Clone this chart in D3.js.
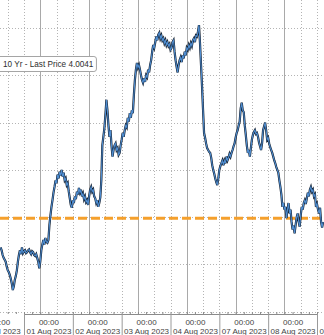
<!DOCTYPE html>
<html>
<head>
<meta charset="utf-8">
<script src="https://cdn.jsdelivr.net/npm/d3@7"></script>
<style>
  body { margin: 0; background: #fff; }
  svg { display: block; font-family: "Liberation Sans", Arial, sans-serif; }
</style>
</head>
<body>
<svg id="chart" width="324" height="335"></svg>
<script>
// trading days shown (weekend removed), index 0 = 31 Jul
const dayLabels = ['31 Jul 2023', '01 Aug 2023', '02 Aug 2023', '03 Aug 2023',
                   '04 Aug 2023', '07 Aug 2023', '08 Aug 2023', '09 Aug 2023'];
const startHour = 12.5;   // first sample: 31 Jul 12:30
const stepHours = 0.5;    // 30 minute samples

// 10y yield
const yields = [
  3.968,3.965,3.960,3.957,3.955,3.953,3.948,3.944,3.942,3.939,
  3.935,3.930,3.923,3.927,3.934,3.938,3.944,3.953,3.960,3.965,
  3.961,3.968,3.962,3.964,3.965,3.962,3.963,3.965,3.966,3.963,
  3.961,3.964,3.963,3.960,3.959,3.961,3.957,3.953,3.946,3.953,
  3.965,3.971,3.976,3.971,3.978,3.974,3.973,
  3.976,3.992,4.002,4.011,4.018,4.026,4.032,4.039,4.036,4.045,
  4.041,4.048,4.044,4.050,4.043,4.047,4.039,4.041,4.034,4.036,
  4.027,4.020,4.013,4.010,4.018,4.015,4.022,4.019,4.027,4.024,
  4.031,4.026,4.029,4.022,4.025,4.019,4.022,4.016,4.018,4.013,
  4.022,4.029,4.032,4.027,4.029,4.022,4.020,4.015,4.018,4.011,
  4.015,4.021,4.039,
  4.076,4.085,4.094,4.108,4.124,4.113,4.097,4.085,4.092,4.076,
  4.064,4.071,4.076,4.078,4.071,4.073,4.066,4.068,4.076,4.082,
  4.089,4.085,4.092,4.097,4.095,4.105,4.101,4.110,4.105,4.113,
  4.110,4.129,4.145,4.156,4.163,4.158,4.161,4.156,4.150,4.145,
  4.142,4.147,4.143,4.150,4.148,4.156,4.153,4.161,4.166,4.175,
  4.182,4.179,
  4.185,4.191,4.187,4.193,4.195,4.189,4.192,4.187,4.189,4.184,
  4.187,4.182,4.185,4.181,4.183,4.177,4.179,4.185,4.187,4.175,
  4.166,4.159,4.153,4.161,4.166,4.169,4.164,4.171,4.168,4.175,
  4.171,4.179,4.177,4.182,4.179,4.184,4.181,4.187,4.189,4.185,
  4.192,4.191,4.196,4.203,4.184,4.161,4.138,4.113,4.089,4.084,
  4.078,4.073,4.071,
  4.069,4.068,4.063,4.055,4.050,4.046,4.041,4.037,4.034,4.041,
  4.050,4.054,4.057,4.060,4.055,4.060,4.057,4.064,4.060,4.063,
  4.067,4.064,4.068,4.071,4.075,4.078,4.084,4.089,4.092,4.097,
  4.101,4.115,4.121,4.113,4.111,4.097,4.087,4.076,4.068,4.071,
  4.064,4.073,4.082,4.087,4.090,4.092,4.088,4.089,4.085,4.079,
  4.075,4.071,4.078,
  4.092,4.096,4.100,4.092,4.082,4.084,4.078,4.074,4.071,4.068,
  4.064,4.060,4.057,4.053,4.050,4.047,4.039,4.032,4.024,4.011,
  4.015,4.008,4.011,3.999,4.008,4.015,4.004,4.008,3.995,3.987,
  3.991,3.983,3.992,4.000,4.004,3.995,3.990,4.002,4.011,4.008,
  4.015,4.018,4.014,4.020,4.026,4.022,4.029,4.032,4.027,4.029,
  4.022,4.024,
  4.011,4.014,4.008,4.004,4.010,3.995,3.989,3.995
];

const yTicks = [3.90, 3.95, 4.00, 4.05, 4.10, 4.15, 4.20];
const priceLine = 3.999;
const legendText = '10 Yr - Last Price 4.0041';

const W = 324, H = 335, axisY = 314;

const series = yields.map((v, i) => ({ t: (startHour + i * stepHours) / 24, v: v }));

const x = d3.scaleLinear().domain([1, 7]).range([24, 317]);
const y = d3.scaleLinear().domain([3.90, 4.20]).range([311.8, 28]);

const svg = d3.select('#chart');
const t0 = x.invert(0), t1 = x.invert(W);
const snap = v => Math.round(v) + 0.5;

// vertical grid: day start and 16:00 dotted, 08:00 solid
const vDotted = [], vSolid = [];
for (let d = 0; d <= dayLabels.length; d++) {
  vDotted.push(d, d + 2 / 3);
  vSolid.push(d + 1 / 3);
}
const inView = t => t >= t0 && t <= t1;

svg.append('g').selectAll('line')
  .data(vDotted.filter(inView))
  .enter().append('line')
  .attr('x1', d => snap(x(d))).attr('x2', d => snap(x(d)))
  .attr('y1', 0).attr('y2', axisY)
  .attr('stroke', '#b4b4b4').attr('stroke-dasharray', '1,2');

svg.append('g').selectAll('line')
  .data(vSolid.filter(inView))
  .enter().append('line')
  .attr('x1', d => snap(x(d))).attr('x2', d => snap(x(d)))
  .attr('y1', 0).attr('y2', axisY)
  .attr('stroke', '#a9a9a9');

// horizontal dotted grid
svg.append('g').selectAll('line')
  .data(yTicks)
  .enter().append('line')
  .attr('x1', 0).attr('x2', W)
  .attr('y1', d => snap(y(d))).attr('y2', d => snap(y(d)))
  .attr('stroke', '#b4b4b4').attr('stroke-dasharray', '1,2');

// price line
svg.append('line')
  .attr('x1', 0).attr('x2', W)
  .attr('y1', y(priceLine)).attr('y2', y(priceLine))
  .attr('stroke', '#f5a02c').attr('stroke-width', 3)
  .attr('stroke-dasharray', '9,4');

// series
svg.append('clipPath').attr('id', 'plot')
  .append('rect').attr('x', 0).attr('y', 0).attr('width', W).attr('height', axisY);

const line = d3.line().x(d => x(d.t)).y(d => y(d.v));
const lines = svg.append('g').attr('clip-path', 'url(#plot)');
lines.append('path').datum(series)
  .attr('d', line).attr('fill', 'none')
  .attr('stroke', '#111c2b').attr('stroke-width', 2.2).attr('stroke-linejoin', 'miter');
lines.append('path').datum(series)
  .attr('d', line).attr('fill', 'none')
  .attr('stroke', '#4f8dd0').attr('stroke-width', 1.1).attr('stroke-linejoin', 'miter');

// x axis: base line with minor ticks every 4h
const minor = d3.range(0, dayLabels.length + 1, 1 / 6).filter(inView);
const minorAxis = svg.append('g')
  .attr('transform', `translate(0,${axisY})`)
  .call(d3.axisTop(x).tickValues(minor).tickSize(2).tickFormat(''));
minorAxis.select('.domain').attr('stroke', '#8a8a8a');
minorAxis.selectAll('.tick line').attr('stroke', '#8a8a8a');

// separators at day boundaries
const sepAxis = svg.append('g')
  .attr('transform', `translate(0,${axisY})`)
  .call(d3.axisBottom(x).tickValues(d3.range(0, dayLabels.length + 1)).tickSize(H - axisY).tickFormat(''));
sepAxis.select('.domain').remove();
sepAxis.selectAll('.tick line').attr('stroke', '#9a9a9a');

// day labels centred in each day
const labAxis = svg.append('g')
  .attr('transform', `translate(0,${axisY})`)
  .call(d3.axisBottom(x).tickValues(dayLabels.map((_, i) => i + 0.5)).tickSize(0).tickFormat(''));
labAxis.select('.domain').remove();
labAxis.selectAll('.tick').each(function (d) {
  const t = d3.select(this).select('text').attr('y', 0).attr('dy', null)
    .attr('fill', '#444').attr('font-size', 8)
    .attr('font-family', '"Liberation Sans", Arial, sans-serif');
  t.append('tspan').attr('x', 0).attr('y', 11).text('00:00');
  t.append('tspan').attr('x', 0).attr('y', 19.5).text(dayLabels[Math.floor(d)]);
});

// legend box
const leg = svg.append('g');
const legRect = leg.append('rect')
  .attr('x', -3).attr('y', 56.5).attr('height', 15).attr('rx', 2.5)
  .attr('fill', '#fff').attr('stroke', '#a5a5a5');
const legTxt = leg.append('text')
  .attr('x', 3).attr('y', 67)
  .attr('font-size', 8.2).attr('fill', '#2e2e2e')
  .text(legendText);
legRect.attr('width', legTxt.node().getComputedTextLength() + 9);
</script>
</body>
</html>
